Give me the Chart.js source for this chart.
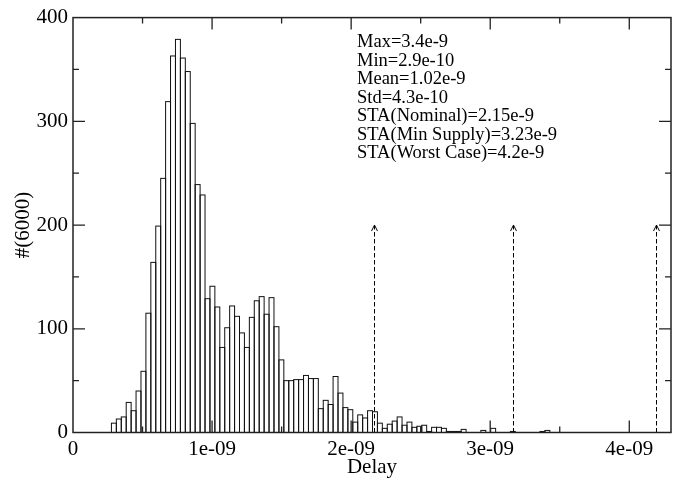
<!DOCTYPE html>
<html>
<head>
<meta charset="utf-8">
<script src="https://cdn.jsdelivr.net/npm/chart.js@4.4.1/dist/chart.umd.min.js"></script>
<style>
  html, body { margin: 0; padding: 0; background: #fff; }
  #wrap { width: 679px; height: 482px; }
</style>
</head>
<body>
<div id="wrap"><canvas id="histChart"></canvas></div>
<script>
// histogram counts per bin
const counts = [
    9, 13, 15, 29, 21, 40, 59, 115, 164, 199,
    245, 319, 363, 379, 361, 348, 298, 239, 229, 129,
    141, 121, 82, 101, 122, 112, 96, 82, 111, 127,
    131, 114, 130, 102, 70, 50, 50, 51, 51, 55,
    52, 52, 23, 31, 27, 54, 38, 24, 22, 10,
    17, 14, 21, 20, 9, 4, 8, 11, 15, 7,
    10, 5, 6, 7, 1, 5, 5, 4, 1, 1,
    1, 3, 0, 0, 0, 2, 0, 4, 0, 0,
    0, 1, 0, 0, 0, 0, 0, 1, 2
];
// bins, in ns
const binStart = 0.2763;
const binWidth = 0.03542;
const delays = counts.map((c, i) => +(binStart + (i + 0.5) * binWidth).toFixed(4));

const xTickValues = [0, 1, 2, 3, 4];
const xTickLabels = ['0', '1e-09', '2e-09', '3e-09', '4e-09'];
const yTickValues = [0, 100, 200, 300, 400];

// STA markers (ns) and arrow height
const staDelays = [2.163, 3.166, 4.19];
const staLevel = 200;

const statLines = [
    'Max=3.4e-9',
    'Min=2.9e-10',
    'Mean=1.02e-9',
    'Std=4.3e-10',
    'STA(Nominal)=2.15e-9',
    'STA(Min Supply)=3.23e-9',
    'STA(Worst Case)=4.2e-9'
];

const serif = '"Liberation Serif", "Times New Roman", serif';

const framePlugin = {
    id: 'frame',
    afterDatasetsDraw(chart) {
        const { ctx, chartArea: a, scales: { x, y } } = chart;
        ctx.save();

        // bar outlines (shared edges like the original)
        ctx.strokeStyle = '#111';
        ctx.lineWidth = 1;
        chart.getDatasetMeta(0).data.forEach((bar, i) => {
            if (!counts[i]) return;
            ctx.strokeRect(bar.x - bar.width / 2, bar.y, bar.width, bar.base - bar.y);
        });

        // dashed arrows
        ctx.strokeStyle = '#000';
        ctx.setLineDash([4.5, 2.5]);
        staDelays.forEach(d => {
            const px = Math.round(x.getPixelForValue(d)) + 0.5;
            ctx.beginPath();
            ctx.moveTo(px, y.getPixelForValue(0));
            ctx.lineTo(px, y.getPixelForValue(staLevel));
            ctx.stroke();
        });
        ctx.setLineDash([]);
        staDelays.forEach(d => {
            const px = Math.round(x.getPixelForValue(d)) + 0.5;
            const top = y.getPixelForValue(staLevel);
            ctx.beginPath();
            ctx.moveTo(px - 3, top + 6);
            ctx.lineTo(px, top);
            ctx.lineTo(px + 3, top + 6);
            ctx.stroke();
        });

        // inward ticks on all sides
        ctx.strokeStyle = '#222';
        ctx.lineWidth = 1.3;
        ctx.beginPath();
        for (let v = 0.5; v < 4.3; v += 0.5) {
            const px = x.getPixelForValue(v);
            const len = Math.abs(v - Math.round(v)) < 1e-6 ? 12 : 6;
            ctx.moveTo(px, a.bottom); ctx.lineTo(px, a.bottom - len);
            ctx.moveTo(px, a.top); ctx.lineTo(px, a.top + len);
        }
        for (let v = 50; v < 400; v += 50) {
            const py = y.getPixelForValue(v);
            const len = v % 100 === 0 ? 12 : 6;
            ctx.moveTo(a.left, py); ctx.lineTo(a.left + len, py);
            ctx.moveTo(a.right, py); ctx.lineTo(a.right - len, py);
        }
        ctx.stroke();

        // frame
        ctx.lineWidth = 1.5;
        ctx.strokeRect(a.left, a.top, a.right - a.left, a.bottom - a.top);

        // statistics text
        ctx.fillStyle = '#000';
        ctx.font = '18.5px ' + serif;
        ctx.textBaseline = 'alphabetic';
        ctx.textAlign = 'left';
        statLines.forEach((t, i) => ctx.fillText(t, 357, 47 + i * 18.5));

        ctx.restore();
    }
};

new Chart(document.getElementById('histChart'), {
    type: 'bar',
    data: {
        datasets: [{
            data: delays.map((d, i) => ({ x: d, y: counts[i] })),
            backgroundColor: '#fff',
            borderWidth: 0,
            barPercentage: 1,
            categoryPercentage: 1
        }]
    },
    options: {
        responsive: true,
        maintainAspectRatio: false,
        animation: false,
        devicePixelRatio: 1,
        layout: { padding: { top: 13, right: 8, left: 0, bottom: 0 } },
        plugins: {
            legend: { display: false },
            tooltip: { enabled: false }
        },
        scales: {
            x: {
                type: 'linear',
                min: 0,
                max: 4.3,
                offset: false,
                grid: { display: false, drawTicks: false, offset: false },
                border: { display: false },
                afterFit: s => { s.height = 49.5; },
                afterBuildTicks: s => { s.ticks = xTickValues.map(v => ({ value: v })); },
                ticks: {
                    padding: 4,
                    autoSkip: false,
                    maxRotation: 0,
                    color: '#000',
                    font: { family: serif, size: 21 },
                    callback: v => xTickLabels[xTickValues.indexOf(v)]
                },
                title: {
                    display: true,
                    text: 'Delay',
                    color: '#000',
                    font: { family: serif, size: 21 },
                    padding: { top: 0, bottom: 2 }
                }
            },
            y: {
                min: 0,
                max: 400,
                grid: { display: false, drawTicks: false },
                border: { display: false },
                afterFit: s => { s.width = 73; },
                afterBuildTicks: s => { s.ticks = yTickValues.map(v => ({ value: v })); },
                ticks: {
                    padding: 5,
                    color: '#000',
                    font: { family: serif, size: 21 }
                },
                title: {
                    display: true,
                    text: '#(6000)',
                    color: '#000',
                    font: { family: serif, size: 21 },
                    padding: { top: 11, bottom: 0 }
                }
            }
        }
    },
    plugins: [framePlugin]
});
</script>
</body>
</html>
